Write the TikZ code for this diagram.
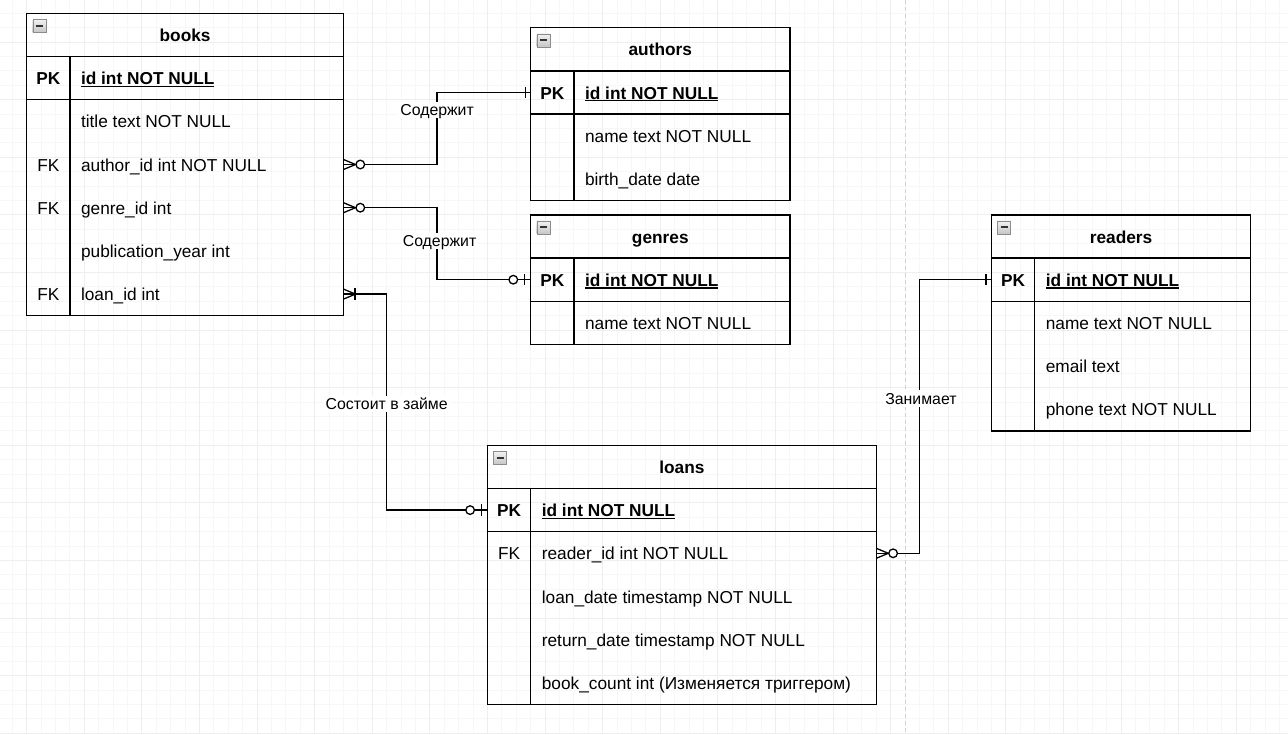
\documentclass[tikz,border=0pt]{standalone}
\usepackage{fontspec}
\setmainfont{Liberation Sans}
\usetikzlibrary{positioning,calc}
\newcommand\pkline[1]{\setbox0=\hbox{#1}\rlap{\copy0}\rule[-2.4pt]{\wd0}{1.4pt}}
\tikzset{
  box/.style={draw, line width=1.3pt, inner sep=0pt, outer sep=0pt, anchor=north west},
  sep/.style={line width=1.3pt},
  field/.style={anchor=west, inner sep=0pt, text height=13pt, text depth=0pt, font=\fontsize{17.28}{20}\selectfont},
  keyf/.style={field, font=\fontsize{17.28}{20}\selectfont\bfseries},
  tag/.style={inner sep=0pt, text height=13pt, text depth=0pt, font=\fontsize{17.28}{20}\selectfont},
  title/.style={tag, font=\fontsize{17.28}{20}\selectfont\bfseries},
  lbl/.style={fill=white, inner xsep=2pt, inner ysep=2.5pt, text height=11.3pt, text depth=0pt, font=\fontsize{15.84}{18}\selectfont},
  link/.style={line width=1.3pt},
  minor/.style={gray!6, line width=1pt},
  major/.style={gray!13, line width=1pt},
  fold/.pic={
    \draw[black!45, top color=gray!10, bottom color=gray!45] (0,0) rectangle (13pt,-13pt);
    \draw[black!80, line width=2pt] (3pt,-6.5pt) -- (10pt,-6.5pt);
  },
  zeromany/.pic={
    \draw[line width=1.3pt] (0,5pt) -- (12pt,0) -- (0,-5pt);
    \draw[line width=1.3pt, fill=white] (16.8pt,0) circle (4.3pt);
  },
  onemany/.pic={
    \draw[line width=1.3pt] (0,5pt) -- (12pt,0) -- (0,-5pt);
    \draw[line width=1.3pt] (11.5pt,5.7pt) -- (11.5pt,-5.7pt);
  },
  zeroone/.pic={
    \draw[line width=1.3pt] (-6pt,5.7pt) -- (-6pt,-5.7pt);
    \draw[line width=1.3pt, fill=white] (-17.4pt,0) circle (4.3pt);
  },
  justone/.pic={
    \draw[line width=1.3pt] (-5.5pt,5.7pt) -- (-5.5pt,-5.7pt);
  }
}
\begin{document}
\begin{tikzpicture}[x=14.4pt, y=-14.4pt]
\useasboundingbox[fill=white] (-1.8542,-0.9236) rectangle (87.5903,50.0486);
% grid
\foreach \i in {-1,...,87} \draw[minor] (\i,-0.9236) -- (\i,50.0486);
\foreach \j in {0,...,50} \draw[minor] (-1.8542,\j) -- (87.5903,\j);
\foreach \i in {0,4,...,84} \draw[major] (\i,-0.9236) -- (\i,50.0486);
\foreach \j in {2,6,...,50} \draw[major] (-1.8542,\j) -- (87.5903,\j);
\draw[gray!35, line width=1pt, dash pattern=on 4pt off 3pt] (61,-0.9236) -- (61,50.0486);

% books
\node[box, minimum width=22*14.4pt, minimum height=21*14.4pt] (books) at (0,0) {};
\draw[sep] (0,3) -- (22,3) (0,6) -- (22,6) (3,3) -- (3,21);
\pic at (books.north west) [shift={(6pt,-6pt)}] {fold};
\node[title] (bname) at (11,1.5) {books};
\node[title] (bpkt) at (1.5,4.5) {PK};
\node[keyf] (bpk) at (3.76,4.5) {\pkline{id int NOT NULL}};
\foreach \t [count=\i] in {title text NOT NULL, author\_id int NOT NULL, genre\_id int, publication\_year int, loan\_id int}
  \node[field] (bf\i) at (3.76,{4.5+3*\i}) {\t};
\foreach \i in {2,3,5}
  \node[tag] (bk\i) at (1.5,{4.5+3*\i}) {FK};

% authors
\node[box, minimum width=18*14.4pt, minimum height=12*14.4pt] (authors) at (35,1) {};
\draw[sep] (35,4) -- (53,4) (35,7) -- (53,7) (38,4) -- (38,13);
\pic at (authors.north west) [shift={(6pt,-6pt)}] {fold};
\node[title] (aname) at (44,2.5) {authors};
\node[title] (apkt) at (36.5,5.5) {PK};
\node[keyf] (apk) at (38.76,5.5) {\pkline{id int NOT NULL}};
\node[field] (af1) at (38.76,8.5) {name text NOT NULL};
\node[field] (af2) at (38.76,11.5) {birth\_date date};

% genres
\node[box, minimum width=18*14.4pt, minimum height=9*14.4pt] (genres) at (35,14) {};
\draw[sep] (35,17) -- (53,17) (35,20) -- (53,20) (38,17) -- (38,23);
\pic at (genres.north west) [shift={(6pt,-6pt)}] {fold};
\node[title] (gname) at (44,15.5) {genres};
\node[title] (gpkt) at (36.5,18.5) {PK};
\node[keyf] (gpk) at (38.76,18.5) {\pkline{id int NOT NULL}};
\node[field] (gf1) at (38.76,21.5) {name text NOT NULL};

% readers
\node[box, minimum width=18*14.4pt, minimum height=15*14.4pt] (readers) at (67,14) {};
\draw[sep] (67,17) -- (85,17) (67,20) -- (85,20) (70,17) -- (70,29);
\pic at (readers.north west) [shift={(6pt,-6pt)}] {fold};
\node[title] (rname) at (76,15.5) {readers};
\node[title] (rpkt) at (68.5,18.5) {PK};
\node[keyf] (rpk) at (70.76,18.5) {\pkline{id int NOT NULL}};
\foreach \t [count=\i] in {name text NOT NULL, email text, phone text NOT NULL}
  \node[field] (rf\i) at (70.76,{18.5+3*\i}) {\t};

% loans
\node[box, minimum width=27*14.4pt, minimum height=18*14.4pt] (loans) at (32,30) {};
\draw[sep] (32,33) -- (59,33) (32,36) -- (59,36) (35,33) -- (35,48);
\pic at (loans.north west) [shift={(6pt,-6pt)}] {fold};
\node[title] (lname) at (45.5,31.5) {loans};
\node[title] (lpkt) at (33.5,34.5) {PK};
\node[keyf] (lpk) at (35.76,34.5) {\pkline{id int NOT NULL}};
\foreach \t [count=\i] in {reader\_id int NOT NULL, loan\_date timestamp NOT NULL, return\_date timestamp NOT NULL, book\_count int (Изменяется триггером)}
  \node[field] (lf\i) at (35.76,{34.5+3*\i}) {\t};
\node[tag] (lk1) at (33.5,37.5) {FK};

% links
\draw[link] (books.east |- bf2) -| (28.5,0 |- apk) -- (authors.west |- apk);
\draw[link] (books.east |- bf3) -| (28.5,0 |- gpk) -- (genres.west |- gpk);
\draw[link] (books.east |- bf5) -| (25,0 |- lpk) -- (loans.west |- lpk);
\draw[link] (loans.east |- lf1) -| (62,0 |- rpk) -- (readers.west |- rpk);
\pic at (books.east |- bf2) {zeromany};
\pic at (books.east |- bf3) {zeromany};
\pic at (books.east |- bf5) {onemany};
\pic at (loans.east |- lf1) {zeromany};
\pic at (authors.west |- apk) {justone};
\pic at (genres.west |- gpk) {zeroone};
\pic at (loans.west |- lpk) {zeroone};
\pic at (readers.west |- rpk) {justone};
\node[lbl] (l1) at (28.5,6.7) {Содержит};
\node[lbl] (l2) at (28.67,15.83) {Содержит};
\node[lbl] (l3) at (25,27.13) {Состоит в займе};
\node[lbl] (l4) at (62.1,26.74) {Занимает};
\end{tikzpicture}
\end{document}
